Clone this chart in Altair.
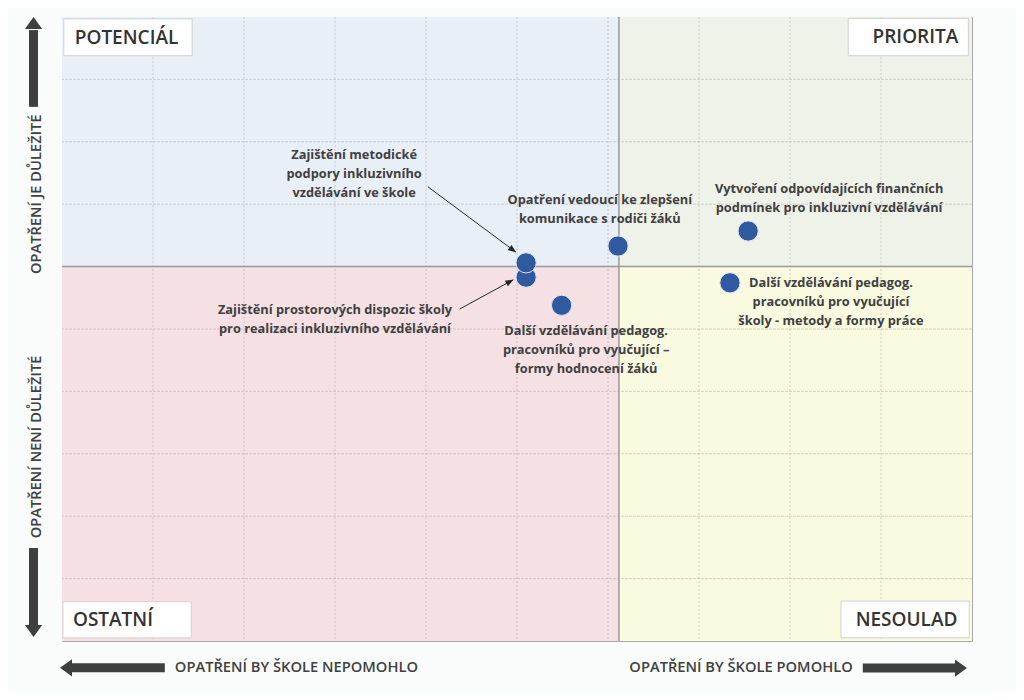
import altair as alt
import pandas as pd

# ---------------- data ----------------
labels = [
    "Zajištění prostorových dispozic školy\npro realizaci inkluzivního vzdělávání",
    "Zajištění metodické\npodpory inkluzivního\nvzdělávání ve škole",
    "Opatření vedoucí ke zlepšení\nkomunikace s rodiči žáků",
    "Další vzdělávání pedagog.\npracovníků pro vyučující –\nformy hodnocení žáků",
    "Vytvoření odpovídajících finančních\npodmínek pro inkluzivní vzdělávání",
    "Další vzdělávání pedagog.\npracovníků pro vyučující\nškoly - metody a formy práce",
]
pt_x = [5.10, 5.10, 6.11, 5.49, 7.54, 7.34]
pt_y = [5.83, 6.06, 6.33, 5.38, 6.57, 5.74]
# label anchor = centre of the first text line
lab_x = [3.00, 3.21, 5.91, 5.76, 8.43, 8.45]
lab_y = [5.30, 7.79, 7.07, 4.97, 7.24, 5.74]

# annotation leader arrows (from label toward point)
arr_x1 = [4.37, 4.02]
arr_y1 = [5.32, 7.28]
arr_x2 = [4.96, 4.99]
arr_y2 = [5.79, 6.23]
arr_ang = [61.3, 126.5]

# quadrants
q_x1 = [0, 6.12, 0, 6.12]
q_x2 = [6.12, 10, 6.12, 10]
q_y1 = [6, 6, 0, 0]
q_y2 = [10, 10, 6, 6]
q_fill = ["#e9eff7", "#eef2e8", "#f5e1e3", "#fafae1"]
div_x = [6.12]
div_y = [6.0]
grid_v = [1, 2, 3, 4, 5, 6, 7, 8, 9]
grid_h = [1, 2, 3, 4, 5, 7, 8, 9]

# quadrant name boxes
box_names = ["POTENCIÁL", "PRIORITA", "OSTATNÍ", "NESOULAD"]
box_x1 = [0.02, 8.64, 0.01, 8.56]
box_x2 = [1.43, 9.96, 1.42, 9.97]
box_y1 = [9.38, 9.38, 0.05, 0.05]
box_y2 = [9.97, 9.98, 0.63, 0.64]
box_tx = [0.14, 9.85, 0.12, 9.84]
box_ty = [9.67, 9.68, 0.34, 0.34]
box_align = ["left", "right", "left", "right"]

# outer direction arrows
ax_x1 = [-0.313, -0.313, 1.13, 8.80]
ax_y1 = [8.56, 1.49, -0.43, -0.433]
ax_x2 = [-0.313, -0.313, 0.09, 9.83]
ax_y2 = [9.79, 0.256, -0.43, -0.433]
head_x = [-0.313, -0.313, -0.022, 9.945]
head_y = [10.0, 0.064, -0.43, -0.433]
head_ang = [0, 180, 270, 90]

vtext = ["OPATŘENÍ JE DŮLEŽITÉ", "OPATŘENÍ NENÍ DŮLEŽITÉ"]
vtext_x = [-0.28, -0.28]
vtext_y = [7.16, 3.11]
htext = ["OPATŘENÍ BY ŠKOLE NEPOMOHLO", "OPATŘENÍ BY ŠKOLE POMOHLO"]
htext_x = [1.24, 8.69]
htext_y = [-0.44, -0.43]
htext_align = ["left", "right"]

# ---------------- chart ----------------
FONT = "Open Sans"
TXT = "#404040"
xs = alt.Scale(domain=[0, 10], nice=False, zero=False)
ys = alt.Scale(domain=[0, 10], nice=False, zero=False)

def X(f):
    return alt.X(f, type="quantitative", scale=xs, axis=None)

def Y(f):
    return alt.Y(f, type="quantitative", scale=ys, axis=None)

bg = alt.Chart(pd.DataFrame({"x1": q_x1, "x2": q_x2, "y1": q_y1, "y2": q_y2, "f": q_fill})).mark_rect().encode(
    x=X("x1"), x2="x2", y=Y("y1"), y2="y2", color=alt.Color("f:N", scale=None)
)

gv = alt.Chart(pd.DataFrame({"v": grid_v})).mark_rule(color="#b8b8b8", strokeWidth=1, strokeDash=[2, 2], opacity=0.7).encode(x=X("v"))
gh = alt.Chart(pd.DataFrame({"v": grid_h})).mark_rule(color="#b8b8b8", strokeWidth=1, strokeDash=[3, 1], opacity=0.6).encode(y=Y("v"))

dv = alt.Chart(pd.DataFrame({"v": div_x})).mark_rule(color="#9a9a9a", strokeWidth=1.5).encode(x=X("v"))
dh = alt.Chart(pd.DataFrame({"v": div_y})).mark_rule(color="#9a9a9a", strokeWidth=1.5).encode(y=Y("v"))

boxdf = pd.DataFrame({"n": box_names, "x1": box_x1, "x2": box_x2, "y1": box_y1, "y2": box_y2,
                      "tx": box_tx, "ty": box_ty, "al": box_align})
boxes = alt.Chart(boxdf).mark_rect(fill="white", stroke="#d0d0d0", strokeWidth=1).encode(
    x=X("x1"), x2="x2", y=Y("y1"), y2="y2"
)
box_l = alt.Chart(boxdf[boxdf.al == "left"]).mark_text(
    align="left", baseline="middle", font=FONT, fontSize=19, fontWeight=600, color="#333333"
).encode(x=X("tx"), y=Y("ty"), text="n:N")
box_r = alt.Chart(boxdf[boxdf.al == "right"]).mark_text(
    align="right", baseline="middle", font=FONT, fontSize=19, fontWeight=600, color="#333333"
).encode(x=X("tx"), y=Y("ty"), text="n:N")

labdf = pd.DataFrame({"t": labels, "lx": lab_x, "ly": lab_y, "px": pt_x, "py": pt_y, "o": list(range(len(labels)))})
ann = alt.Chart(labdf).mark_text(
    align="center", baseline="middle", lineBreak="\n", lineHeight=19,
    font=FONT, fontSize=12.8, fontWeight="bold", color=TXT
).encode(x=X("lx"), y=Y("ly"), text="t:N")

arrdf = pd.DataFrame({"x1": arr_x1, "y1": arr_y1, "x2": arr_x2, "y2": arr_y2, "a": arr_ang})
arr_line = alt.Chart(arrdf).mark_rule(color="#262626", strokeWidth=1).encode(x=X("x1"), y=Y("y1"), x2="x2", y2="y2")
arr_head = alt.Chart(arrdf).mark_point(
    shape="M0,0L-0.4,1L0.4,1Z", filled=True, color="#262626", opacity=1, size=256
).encode(x=X("x2"), y=Y("y2"), angle=alt.Angle("a:Q", scale=None))

pts = alt.Chart(labdf).mark_circle(
    size=410, color="#2f5a9f", opacity=1, stroke="#dde4f0", strokeWidth=1
).encode(x=X("px"), y=Y("py"), order=alt.Order("o:Q"))

axdf = pd.DataFrame({"x1": ax_x1, "y1": ax_y1, "x2": ax_x2, "y2": ax_y2, "hx": head_x, "hy": head_y, "a": head_ang})
ax_shaft = alt.Chart(axdf).mark_rule(color="#3f3f3f", strokeWidth=9, strokeCap="butt").encode(
    x=X("x1"), y=Y("y1"), x2="x2", y2="y2"
)
ax_head = alt.Chart(axdf).mark_point(
    shape="M0,0L-0.72,1L0.72,1Z", filled=True, color="#3f3f3f", opacity=1, size=576
).encode(x=X("hx"), y=Y("hy"), angle=alt.Angle("a:Q", scale=None))

vt = alt.Chart(pd.DataFrame({"t": vtext, "x": vtext_x, "y": vtext_y})).mark_text(
    angle=270, align="center", baseline="middle", font=FONT, fontSize=14.7, fontWeight=600, color=TXT
).encode(x=X("x"), y=Y("y"), text="t:N")

htdf = pd.DataFrame({"t": htext, "x": htext_x, "y": htext_y, "al": htext_align})
ht_l = alt.Chart(htdf[htdf.al == "left"]).mark_text(
    align="left", baseline="middle", font=FONT, fontSize=14.7, fontWeight=600, color=TXT
).encode(x=X("x"), y=Y("y"), text="t:N")
ht_r = alt.Chart(htdf[htdf.al == "right"]).mark_text(
    align="right", baseline="middle", font=FONT, fontSize=14.7, fontWeight=600, color=TXT
).encode(x=X("x"), y=Y("y"), text="t:N")

chart = alt.layer(
    bg, gv, gh, dv, dh, boxes, box_l, box_r, ann, arr_line, arr_head, pts,
    ax_shaft, ax_head, vt, ht_l, ht_r
).properties(
    width=910, height=624,
    autosize=alt.AutoSizeParams(type="none"),
    padding={"left": 54, "top": 9, "right": 44, "bottom": 51},
    background="#fafbfb",
).configure_view(stroke="#a8a8a8", strokeWidth=1)

chart.save("out.html", embed_options={"renderer": "svg", "actions": False})
